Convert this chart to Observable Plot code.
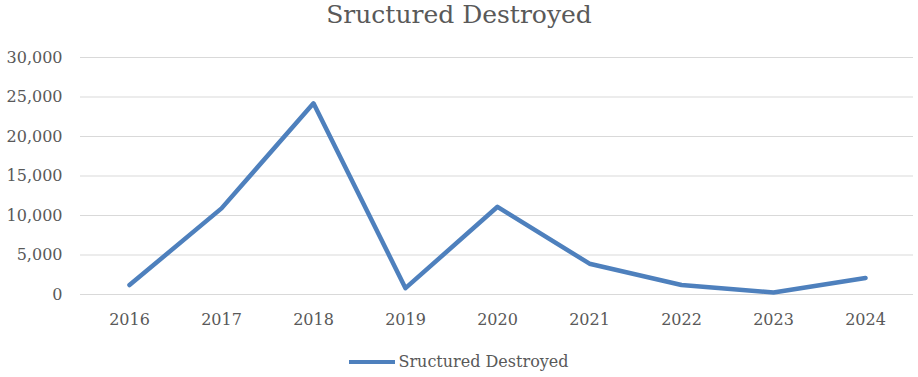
<!DOCTYPE html>
<html>
<head>
<meta charset="utf-8">
<script src="https://cdn.jsdelivr.net/npm/d3@7"></script>
<script src="https://cdn.jsdelivr.net/npm/@observablehq/plot@0.6"></script>
<style>
  html, body { margin: 0; padding: 0; background: #fff; }
  body { width: 918px; height: 377px; overflow: hidden; font-family: "DejaVu Serif", serif; color: #595959; }
  #title { height: 40px; line-height: 30px; text-align: center; font-size: 25px; color: #595959; }
  #legend { position: absolute; top: 352px; left: 0; width: 918px; text-align: center; font-size: 16px; color: #595959; }
  #legend .sw { display: inline-block; width: 46px; height: 4px; background: #4e80bd; vertical-align: middle; margin-right: 3px; position: relative; top: -1px; }
  #chart { position: absolute; top: 40px; left: 0; }
</style>
</head>
<body>
<div id="title">Sructured Destroyed</div>
<div id="chart"></div>
<div id="legend"><span class="sw"></span>Sructured Destroyed</div>
<script>
const years = ["2016", "2017", "2018", "2019", "2020", "2021", "2022", "2023", "2024"];
const destroyed = [1200, 10900, 24200, 800, 11100, 3900, 1200, 250, 2100];
const yTicks = [0, 5000, 10000, 15000, 20000, 25000, 30000];

const data = years.map((y, i) => ({year: y, value: destroyed[i]}));

const chart = Plot.plot({
  width: 918,
  height: 300,
  marginLeft: 80,
  marginRight: 5,
  marginTop: 17,
  marginBottom: 46,
  style: {fontFamily: "DejaVu Serif, serif", fontSize: "16px", color: "#595959", background: "#fff"},
  x: {type: "point", domain: years, padding: 0.5},
  y: {domain: [0, 30000]},
  marks: [
    Plot.gridY(yTicks, {stroke: "#d9d9d9", strokeOpacity: 1, strokeWidth: 1}),
    Plot.axisY(yTicks, {tickSize: 0, tickPadding: 18, tickFormat: d3.format(","), label: null, fill: "#595959"}),
    Plot.axisX(years, {tickSize: 0, tickPadding: 19, label: null, fill: "#595959"}),
    Plot.line(data, {x: "year", y: "value", stroke: "#4e80bd", strokeWidth: 4.5, strokeLinejoin: "round", strokeLinecap: "round"})
  ]
});
document.getElementById("chart").appendChild(chart);
</script>
</body>
</html>
